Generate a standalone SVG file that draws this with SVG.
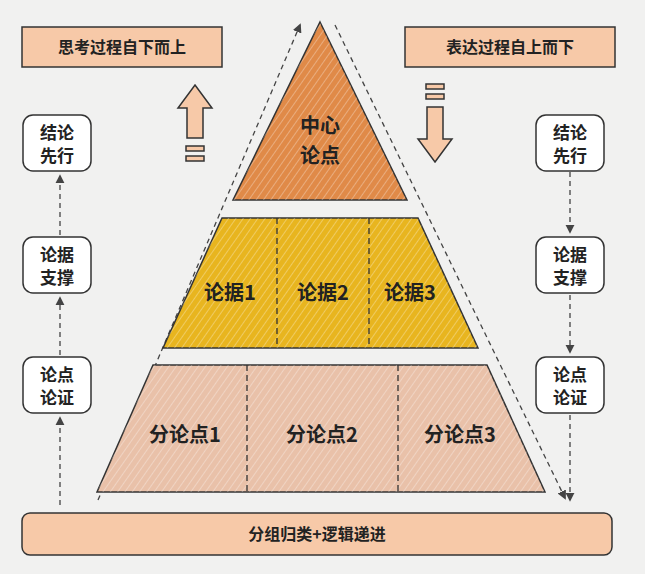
<svg xmlns="http://www.w3.org/2000/svg" width="645" height="574" viewBox="0 0 645 574">
<defs>
<marker id="ah" viewBox="0 0 10 10" refX="8" refY="5" markerWidth="7" markerHeight="7" orient="auto-start-reverse"><path d="M0,0 L10,5 L0,10 z" fill="#444"/></marker>
<pattern id="hatch" width="6" height="6" patternUnits="userSpaceOnUse" patternTransform="rotate(35)"><line x1="0" y1="0" x2="0" y2="6" stroke="#fff" stroke-opacity="0.3" stroke-width="2"/></pattern>
</defs>
<style>
.box{fill:#f7c9a8;stroke:#333;stroke-width:1.5}
.small{fill:#fff;stroke:#333;stroke-width:1.5}
.t{font-family:"Noto Sans CJK SC",sans-serif;font-weight:bold;fill:#222;text-anchor:middle}
.dash{stroke:#444;stroke-width:1.3;stroke-dasharray:5 4;fill:none}
.div{stroke:#333;stroke-width:1.3;stroke-dasharray:6 4}
.lvl{stroke:#333;stroke-width:1.5}
</style>
<rect width="645" height="574" fill="#f1f1f0"/>
<g id="title-left"><rect class="box" x="22" y="27" width="200" height="40"/><text class="t" x="122" y="53" font-size="16">思考过程自下而上</text></g>
<g id="title-right"><rect class="box" x="405" y="27" width="210" height="40"/><text class="t" x="510" y="53" font-size="16">表达过程自上而下</text></g>
<g id="up-icon" fill="#f7c9a8" stroke="#333" stroke-width="1.5">
<path d="M195,85 L212,108 L203,108 L203,138 L187,138 L187,108 L178,108 Z"/>
<rect x="186" y="146" width="18" height="5"/><rect x="186" y="156" width="18" height="5"/></g>
<g id="down-icon" fill="#f7c9a8" stroke="#333" stroke-width="1.5">
<rect x="426" y="84" width="18" height="5"/><rect x="426" y="94" width="18" height="5"/>
<path d="M435,162 L452,139 L443,139 L443,107 L427,107 L427,139 L418,139 Z"/></g>
<g id="connectors">
<line class="dash" x1="98" y1="500" x2="300" y2="25" marker-end="url(#ah)"/>
<line class="dash" x1="335" y1="25" x2="565" y2="498" marker-end="url(#ah)"/>
<line class="dash" x1="60" y1="505" x2="60" y2="418" marker-end="url(#ah)"/>
<line class="dash" x1="60" y1="355" x2="60" y2="298" marker-end="url(#ah)"/>
<line class="dash" x1="60" y1="235" x2="60" y2="176" marker-end="url(#ah)"/>
<line class="dash" x1="570" y1="172" x2="570" y2="232" marker-end="url(#ah)"/>
<line class="dash" x1="570" y1="295" x2="570" y2="352" marker-end="url(#ah)"/>
<line class="dash" x1="570" y1="415" x2="570" y2="500" marker-end="url(#ah)"/>
</g>
<g id="apex"><path class="lvl" d="M320,22 L407,200 L233,200 Z" fill="#e08a48"/><path d="M320,22 L407,200 L233,200 Z" fill="url(#hatch)"/>
<text class="t" x="320" y="133" font-size="20">中心</text><text class="t" x="320" y="163" font-size="20">论点</text></g>
<g id="evidence"><path class="lvl" d="M222,218 L418,218 L478,348 L163,348 Z" fill="#e8b51f"/><path d="M222,218 L418,218 L478,348 L163,348 Z" fill="url(#hatch)"/>
<line class="div" x1="277" y1="218" x2="277" y2="348"/><line class="div" x1="369" y1="218" x2="369" y2="348"/>
<text class="t" x="230" y="300" font-size="20">论据1</text><text class="t" x="323" y="300" font-size="20">论据2</text><text class="t" x="410" y="300" font-size="20">论据3</text></g>
<g id="subpoints"><path class="lvl" d="M153,365 L487,365 L545,492 L97,492 Z" fill="#e9c1a9"/><path d="M153,365 L487,365 L545,492 L97,492 Z" fill="url(#hatch)"/>
<line class="div" x1="247" y1="365" x2="247" y2="492"/><line class="div" x1="398" y1="365" x2="398" y2="492"/>
<text class="t" x="185" y="442" font-size="20">分论点1</text><text class="t" x="322" y="442" font-size="20">分论点2</text><text class="t" x="460" y="442" font-size="20">分论点3</text></g>
<g id="bottom-bar"><rect class="box" x="22" y="513" width="590" height="42" rx="8"/><text class="t" x="317" y="540" font-size="16">分组归类+逻辑递进</text></g>
<g id="l1"><rect class="small" x="23" y="115" width="68" height="56" rx="10"/><text class="t" x="57" y="139" font-size="17">结论</text><text class="t" x="57" y="162" font-size="17">先行</text></g>
<g id="l2"><rect class="small" x="23" y="237" width="68" height="56" rx="10"/><text class="t" x="57" y="261" font-size="17">论据</text><text class="t" x="57" y="284" font-size="17">支撑</text></g>
<g id="l3"><rect class="small" x="23" y="357" width="68" height="56" rx="10"/><text class="t" x="57" y="381" font-size="17">论点</text><text class="t" x="57" y="404" font-size="17">论证</text></g>
<g id="r1"><rect class="small" x="536" y="115" width="68" height="56" rx="10"/><text class="t" x="570" y="139" font-size="17">结论</text><text class="t" x="570" y="162" font-size="17">先行</text></g>
<g id="r2"><rect class="small" x="536" y="237" width="68" height="56" rx="10"/><text class="t" x="570" y="261" font-size="17">论据</text><text class="t" x="570" y="284" font-size="17">支撑</text></g>
<g id="r3"><rect class="small" x="536" y="357" width="68" height="56" rx="10"/><text class="t" x="570" y="381" font-size="17">论点</text><text class="t" x="570" y="404" font-size="17">论证</text></g>
</svg>
